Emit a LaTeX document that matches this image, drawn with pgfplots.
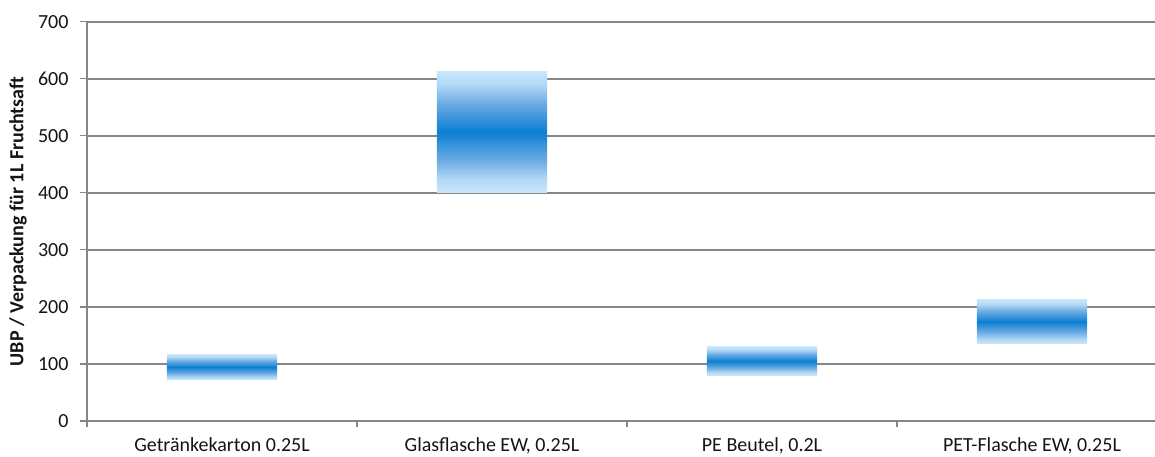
\documentclass[border=0pt]{standalone}
\usepackage{fontspec}
\setmainfont{Carlito}
\usepackage{pgfplots}
\pgfplotsset{compat=1.18}

\definecolor{gridgray}{RGB}{134,134,134}
\definecolor{textgray}{RGB}{20,20,20}
\definecolor{barlight}{RGB}{200,231,251}
\definecolor{barlight2}{RGB}{180,218,246}
\definecolor{barmid}{RGB}{110,172,228}
\definecolor{bardark}{RGB}{10,128,210}

% bar box maps to 25bp..75bp of the shading
\pgfdeclareverticalshading{barshade}{100bp}{%
  color(0bp)=(barlight); color(25bp)=(barlight); color(30bp)=(barlight2);
  color(38bp)=(barmid); color(50bp)=(bardark); color(62bp)=(barmid);
  color(70bp)=(barlight2); color(75bp)=(barlight); color(100bp)=(barlight)}

\begin{document}
\begin{tikzpicture}
\begin{axis}[
    scale only axis,
    width=1068pt, height=399.3pt,
    at={(0,0)}, anchor=south west,
    xmin=-0.5, xmax=3.4556,
    ymin=0, ymax=700,
    axis x line*=bottom,
    axis y line*=left,
    axis line style={gridgray, line width=1.8pt, -},
    ymajorgrids,
    grid style={gridgray, line width=1.8pt},
    ytick={0,100,...,700},
    xtick={0,1,2,3},
    xticklabels={{Getränkekarton 0.25L}, {Glasflasche EW, 0.25L}, {PE Beutel, 0.2L}, {PET-Flasche EW, 0.25L}},
    minor xtick={-0.5,0.5,1.5,2.5},
    tick align=outside,
    major tick length=7pt,
    minor tick length=6pt,
    major x tick style={draw=none},
    tick style={gridgray, line width=1.2pt},
    ticklabel style={font=\fontsize{20}{24}\selectfont, text=textgray},
    yticklabel style={xshift=-8pt},
    xticklabel style={yshift=-6pt},
    /pgf/number format/assume math mode=true,
    ylabel={UBP / Verpackung für 1L Fruchtsaft},
    ylabel style={at={(axis description cs:-0.0646,0.5)}, anchor=center,
        font=\fontsize{20}{24}\selectfont\bfseries, text=textgray},
  ]
  \addplot[draw=none, shade, shading=barshade] coordinates {(-0.204,72) (0.204,72) (0.204,117) (-0.204,117)};
  \addplot[draw=none, shade, shading=barshade] coordinates {(0.796,401) (1.204,401) (1.204,613) (0.796,613)};
  \addplot[draw=none, shade, shading=barshade] coordinates {(1.796,80) (2.204,80) (2.204,130) (1.796,130)};
  \addplot[draw=none, shade, shading=barshade] coordinates {(2.796,135) (3.204,135) (3.204,213) (2.796,213)};
\end{axis}
\pgfresetboundingbox
\path (-87pt,-36pt) rectangle (1068pt,421pt);
\end{tikzpicture}
\end{document}
